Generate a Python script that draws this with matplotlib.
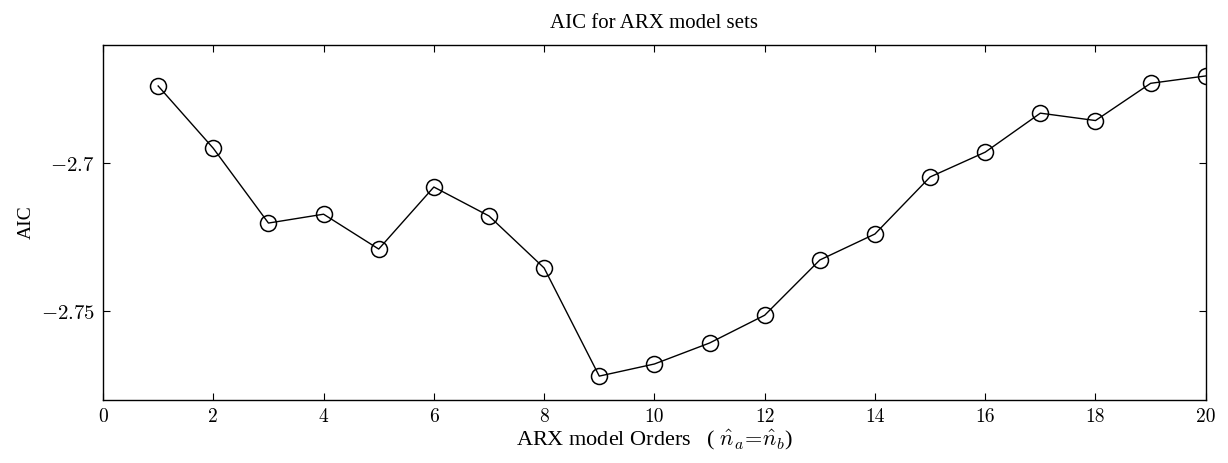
import numpy as np
from matplotlib import pyplot as plt

# 模型阶次与对应的 AIC 值
orders = [1, 2, 3, 4, 5, 6, 7, 8, 9, 10, 11, 12, 13, 14, 15, 16, 17, 18, 19, 20]
aic = [-2.6739, -2.6950, -2.7203, -2.7173, -2.7291, -2.7081, -2.7179, -2.7355,
       -2.7721, -2.7680, -2.7609, -2.7515, -2.7328, -2.7240, -2.7047, -2.6963,
       -2.6831, -2.6856, -2.6730, -2.6705]
xticks = [0, 2, 4, 6, 8, 10, 12, 14, 16, 18, 20]
yticks = [-2.75, -2.7]

plt.rcParams["mathtext.fontset"] = "cm"
plt.rcParams["axes.formatter.use_mathtext"] = True

fig = plt.figure(figsize=(12.28, 4.63), dpi=100)
ax = fig.add_axes([0.0839, 0.136, 0.898, 0.767])
ax.plot(orders, aic, color="black", linewidth=1.0, marker="o", markersize=11.5,
        markerfacecolor="none", markeredgecolor="black", markeredgewidth=1.1)

ax.set_xlim(0, 20)
ax.set_ylim(-2.7802, -2.66)
ax.set_xticks(xticks)
ax.set_yticks(yticks)
ax.set_xticklabels([str(t) for t in xticks], fontfamily="cmr10", fontsize=14)
ax.set_yticklabels([r"$-2.75$", r"$-2.7$"], fontsize=15)
ax.tick_params(direction="in", top=True, right=True, length=5, width=0.8, pad=6)
for s in ax.spines.values():
    s.set_linewidth(1.0)

ax.set_title("AIC for ARX model sets", fontfamily="Liberation Serif", fontsize=15, pad=12)
ax.set_xlabel(r"ARX model Orders   ( $\hat{n}_a\!=\!\hat{n}_b$)",
              fontfamily="Liberation Serif", fontsize=16, labelpad=1)
ax.set_ylabel("AIC", fontfamily="Liberation Serif", fontsize=14, labelpad=4)

fig.savefig("out.png", dpi=100)
